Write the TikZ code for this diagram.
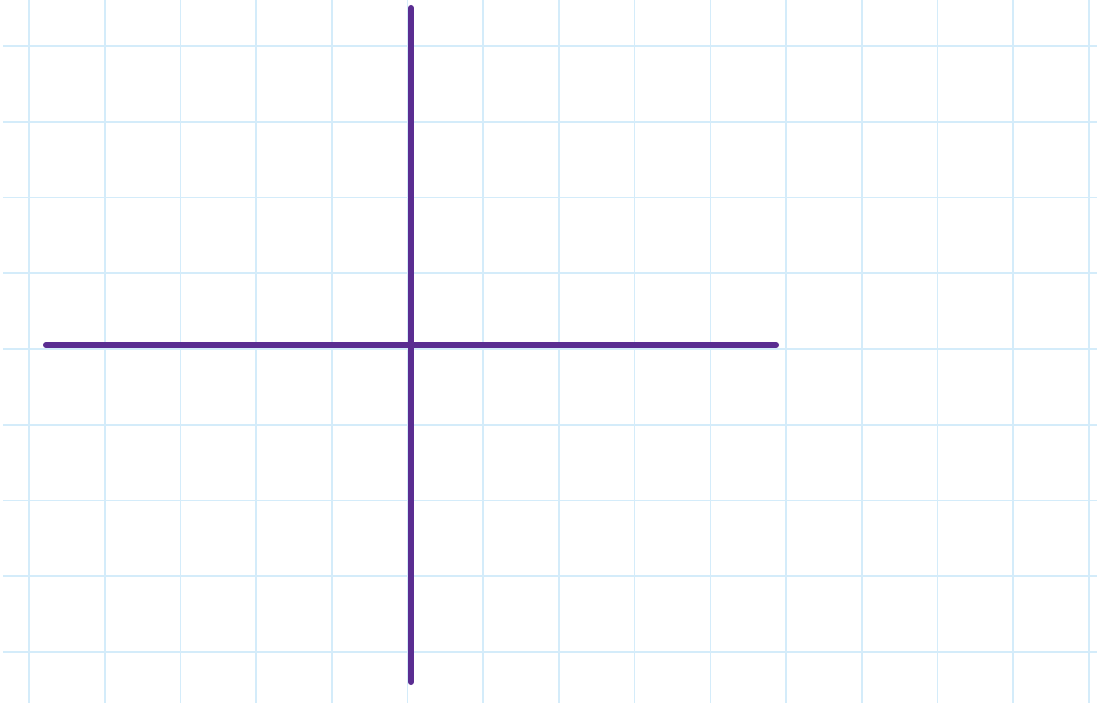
\documentclass[tikz,border=0pt]{standalone}
\definecolor{gridblue}{HTML}{D4ECFA}
\definecolor{axispurple}{HTML}{5A2D91}
\tikzset{
  gridline/.style={draw=gridblue, line width=1.6pt},
  axisline/.style={draw=axispurple, line width=6pt, line cap=round}
}
\begin{document}
\begin{tikzpicture}[x=1pt,y=-1pt]
\useasboundingbox (0,0) rectangle (1097,703);
\fill[white] (0,0) rectangle (1097,703);
\foreach \i in {0,...,14} {
  \draw[gridline] ({29+75.71*\i},0) -- ({29+75.71*\i},703);
}
\foreach \j in {0,...,8} {
  \draw[gridline] (3,{46+75.75*\j}) -- (1097,{46+75.75*\j});
}
\coordinate (L) at (46,345);
\coordinate (R) at (776,345);
\coordinate (T) at (411,8);
\coordinate (B) at (411,682);
\draw[axisline] (L) -- (R);
\draw[axisline] (T) -- (B);
\end{tikzpicture}
\end{document}
